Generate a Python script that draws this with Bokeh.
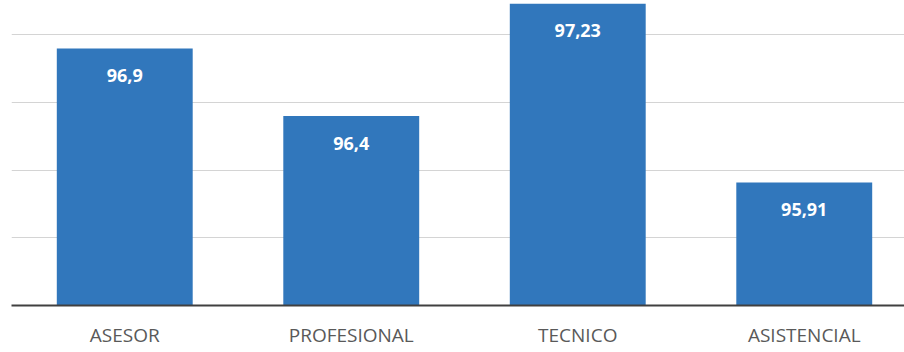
from bokeh.plotting import figure
from bokeh.models import ColumnDataSource, Range1d, FixedTicker
from bokeh.core.properties import value
from bokeh.embed import file_html
from bokeh.resources import INLINE

categories = ["ASESOR", "PROFESIONAL", "TECNICO", "ASISTENCIAL"]
values = [96.9, 96.4, 97.23, 95.91]
value_labels = ["96,9", "96,4", "97,23", "95,91"]
grid_ticks = [95.5, 96.0, 96.5, 97.0]

xpos = [i + 0.5 for i in range(len(categories))]
src = ColumnDataSource(dict(x=xpos, top=values, lab=value_labels))

p = figure(width=904, height=352, output_backend="svg", toolbar_location=None,
           x_range=Range1d(0, 893 / 226.5), y_range=Range1d(95, 95 + 305 / 135.3),
           min_border_left=11, min_border_right=0, min_border_top=0, min_border_bottom=47)
p.outline_line_color = None
p.background_fill_color = "white"
p.border_fill_color = "white"

p.vbar(x="x", top="top", bottom=95, width=0.6, source=src,
       fill_color="#3177BC", line_color=None)
p.text(x="x", y="top", text="lab", source=src, y_offset=27,
       text_align="center", text_baseline="middle", text_color="white",
       text_font=value("Open Sans"), text_font_style="bold", text_font_size="18px")

p.yaxis.visible = False
p.yaxis.ticker = FixedTicker(ticks=grid_ticks)
p.ygrid.ticker = FixedTicker(ticks=grid_ticks)
p.ygrid.grid_line_color = "#d4d4d4"
p.ygrid.grid_line_width = 1
p.xgrid.visible = False

p.xaxis.ticker = FixedTicker(ticks=xpos)
p.xaxis.major_label_overrides = {x: c for x, c in zip(xpos, categories)}
p.xaxis.major_tick_line_color = None
p.xaxis.major_tick_out = 0
p.xaxis.major_tick_in = 0
p.xaxis.minor_tick_line_color = None
p.xaxis.minor_tick_out = 0
p.xaxis.axis_line_color = "#404040"
p.xaxis.axis_line_width = 2
p.xaxis.major_label_standoff = 16
p.xaxis.major_label_text_font = "Open Sans"
p.xaxis.major_label_text_font_size = "19px"
p.xaxis.major_label_text_line_height = 0.9
p.xaxis.major_label_text_color = "#595959"

open("out.html", "w").write(file_html(p, INLINE))
